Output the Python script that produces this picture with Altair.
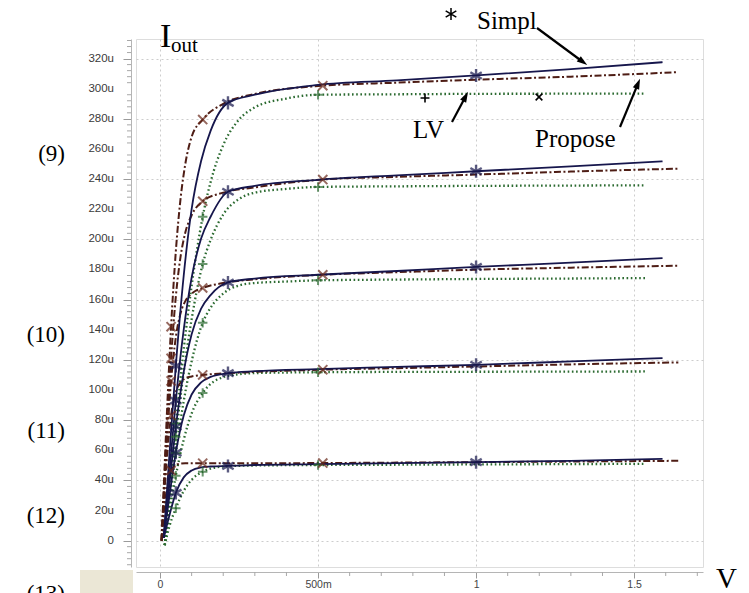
import altair as alt
import pandas as pd

# ---------------- data (I in uA, V in volts) ----------------
families = ["F1", "F2", "F3", "F4", "F5"]

simpl_v = [0.012, 0.03, 0.05, 0.075, 0.1, 0.13, 0.16, 0.215, 0.3, 0.5, 0.75, 1.0, 1.3, 1.59]
simpl_f1 = [2, 58, 116, 176, 220, 252, 272, 290.6, 296, 302.5, 305.5, 308.8, 313, 317.6]
simpl_f2 = [2, 46, 93, 140, 174.5, 200.5, 215, 231.6, 235.5, 239.5, 242.5, 245.2, 248.5, 251.8]
simpl_f3 = [2, 38, 75.6, 112, 137, 154, 163, 171.4, 174, 176.5, 179, 181.7, 184.5, 187.6]
simpl_f4 = [2, 30, 58.4, 83, 97, 105, 108.7, 111.2, 112.5, 113.9, 115.3, 116.7, 119, 121.2]
simpl_f5 = [2, 17, 31.7, 42, 46.6, 48.6, 49.2, 49.6, 50.2, 50.8, 51.4, 52.1, 53, 54.3]

prop_v = [0.005, 0.02, 0.035, 0.05, 0.065, 0.08, 0.1, 0.135, 0.2, 0.3, 0.515, 0.75, 1.0, 1.3, 1.64]
prop_f1 = [0, 76, 142, 192, 227, 250, 268, 279.5, 290, 296.5, 302, 304, 306, 308, 311]
prop_f2 = [0, 66, 121, 162, 188.5, 204.5, 216, 225.3, 231, 234.5, 239.7, 241.5, 243, 245, 246.9]
prop_f3 = [0, 60, 106, 135, 151, 159, 164, 167.7, 171, 173.5, 176.5, 178.2, 179.9, 181.2, 182.5]
prop_f4 = [0, 50, 83, 98.6, 105, 107.8, 109, 110, 111, 112, 113.5, 114.5, 115.6, 117, 118.3]
prop_f5 = [0, 32, 46.5, 50.3, 51.1, 51.3, 51.3, 51.4, 51.4, 51.4, 51.5, 51.8, 52.1, 52.5, 53]

lv_v = [0.015, 0.03, 0.05, 0.075, 0.1, 0.135, 0.16, 0.2, 0.25, 0.3, 0.4, 0.5, 0.75, 1.0, 1.3, 1.535]
lv_f1 = [-3, 34, 77.6, 127, 169, 215, 238, 262.6, 279.5, 287.6, 293.5, 296, 296.3, 296.6, 296.7, 296.8]
lv_f2 = [-3, 30, 69, 112, 147, 183.6, 199.6, 216.5, 226.8, 231, 233.5, 234.8, 235.2, 235.5, 235.7, 235.9]
lv_f3 = [-3, 25.7, 58, 92.6, 119, 144.6, 154.6, 164, 169.4, 171, 172, 172.8, 173.3, 173.7, 174, 174.3]
lv_f4 = [-3, 19, 43, 67, 84.4, 98, 104, 108.5, 110.5, 111.2, 111.6, 111.8, 112, 112.1, 112.2, 112.3]
lv_f5 = [-3, 9.7, 21.5, 33, 40.4, 45.8, 47.8, 49.2, 49.7, 49.9, 50.1, 50.2, 50.4, 50.6, 50.8, 51]

# voltages at which each model carries a marker
simpl_marker_v = [0.05, 0.215, 1.0]
prop_marker_v = [0.035, 0.135, 0.515]
lv_marker_v = [0.05, 0.135, 0.5]

y_major = list(range(0, 321, 20))
y_major_labels = ["0"] + [f"{v}u" for v in range(20, 321, 20)]
y_minor = [v for v in range(-16, 333, 4) if v % 20 != 0]
x_major = [0, 0.5, 1.0, 1.5]
x_minor = [round(0.1 * k, 1) for k in range(0, 18) if k % 5 != 0]

# ---------------- build tables ----------------
def table(model, vs, series):
    rows = []
    for fam, vals in zip(families, series):
        for v, i in zip(vs, vals):
            rows.append({"model": model, "family": fam, "V": v, "I": i})
    return rows

simpl_df = pd.DataFrame(table("Simpl", simpl_v, [simpl_f1, simpl_f2, simpl_f3, simpl_f4, simpl_f5]))
prop_df = pd.DataFrame(table("Propose", prop_v, [prop_f1, prop_f2, prop_f3, prop_f4, prop_f5]))
lv_df = pd.DataFrame(table("LV", lv_v, [lv_f1, lv_f2, lv_f3, lv_f4, lv_f5]))

simpl_mk = simpl_df[simpl_df["V"].isin(simpl_marker_v)]
prop_mk = prop_df[prop_df["V"].isin(prop_marker_v)]
lv_mk = lv_df[lv_df["V"].isin(lv_marker_v)]

NAVY = "#16164c"
BROWN = "#4e1d15"
GREEN = "#2b6a30"

ASTER = "M0,-1L0,1M-0.87,-0.5L0.87,0.5M-0.87,0.5L0.87,-0.5"
CROSS = "M-0.8,-0.8L0.8,0.8M-0.8,0.8L0.8,-0.8"
PLUS = "M-1,0L1,0M0,-1L0,1"
HEAD = "M0,-1L0.65,1L-0.65,1Z"

xs = alt.Scale(domain=[-0.076, 1.718], nice=False, zero=False)
ys = alt.Scale(domain=[-17.5, 333], nice=False, zero=False)

x_axis = alt.Axis(values=x_major,
                  labelExpr="datum.value == 0 ? '0' : (datum.value == 0.5 ? '500m' : format(datum.value, ''))",
                  grid=True, gridColor="#cdcdcd", gridDash=[2, 3], gridWidth=1,
                  domainColor="#b5b5b5", tickColor="#9a9a9a", tickSize=6, offset=5,
                  labelFont="Liberation Sans", labelFontSize=10.5, labelColor="#444", labelPadding=1,
                  labelOverlap=False, title=None)
y_axis = alt.Axis(values=y_major, labels=False,
                  grid=True, gridColor="#cdcdcd", gridDash=[2, 3], gridWidth=1,
                  domainColor="#b5b5b5", tickColor="#9a9a9a", tickSize=8, offset=5,
                  title=None)

base_x = alt.X("V:Q", scale=xs, axis=x_axis)
base_y = alt.Y("I:Q", scale=ys, axis=y_axis)
px = alt.X("V:Q", scale=xs)
py = alt.Y("I:Q", scale=ys)

lv_line = alt.Chart(lv_df).mark_line(color=GREEN, strokeWidth=2.3, strokeDash=[1.6, 2.6],
                                     interpolate="monotone").encode(
    x=base_x, y=base_y, detail="family:N")
prop_line = alt.Chart(prop_df).mark_line(color=BROWN, strokeWidth=2.0, strokeDash=[7, 2.5, 2, 2.5],
                                         interpolate="monotone").encode(
    x=px, y=py, detail="family:N")
simpl_line = alt.Chart(simpl_df).mark_line(color=NAVY, strokeWidth=1.8,
                                           interpolate="monotone").encode(
    x=px, y=py, detail="family:N")

lv_pts = alt.Chart(lv_mk).mark_point(shape=PLUS, size=90, strokeWidth=2, color=GREEN, filled=False).encode(
    x=px, y=py)
prop_pts = alt.Chart(prop_mk).mark_point(shape=CROSS, size=130, strokeWidth=2, color="#6a2a1c", filled=False).encode(
    x=px, y=py)
simpl_pts = alt.Chart(simpl_mk).mark_point(shape=ASTER, size=170, strokeWidth=2.4, color=NAVY, filled=False).encode(
    x=px, y=py)

# y tick labels (drawn as text so that every one of them shows)
ylab = alt.Chart(pd.DataFrame({"I": y_major, "lab": y_major_labels})).mark_text(
    font="Liberation Sans", fontSize=11.5, color="#3a3a3a", align="right", baseline="middle").encode(
    y=py, x=alt.value(-22), text="lab:N")

# minor ticks of both axes
y_minor_ticks = alt.Chart(pd.DataFrame({"I": y_minor})).mark_rule(color="#a8a8a8", strokeWidth=1).encode(
    y=py, x=alt.value(-5), x2=alt.value(-9))
x_minor_ticks = alt.Chart(pd.DataFrame({"V": x_minor})).mark_rule(color="#a8a8a8", strokeWidth=1).encode(
    x=px, y=alt.value(533), y2=alt.value(537))

# beige corner box
corner = alt.Chart(pd.DataFrame({"k": [0]})).mark_rect(color="#ebe7d6").encode(
    x=alt.value(-56), x2=alt.value(-3), y=alt.value(531), y2=alt.value(560))

SERIF = "Liberation Serif"

def txt(s, x, y, size, align="left", baseline="alphabetic"):
    return alt.Chart(pd.DataFrame({"t": [s]})).mark_text(
        font=SERIF, fontSize=size, color="#000", align=align, baseline=baseline).encode(
        text="t:N", x=alt.value(x), y=alt.value(y))

labels = [
    txt("I", 24, 8, 34),
    txt("out", 35, 13, 21),
    txt("Simpl", 341, -10, 25),
    txt("LV", 277, 99, 25),
    txt("Propose", 399, 108, 25),
    txt("V", 580, 549, 29),
    txt("(9)", -71, 122, 23, align="right"),
    txt("(10)", -71, 303, 23, align="right"),
    txt("(11)", -71, 399, 23, align="right"),
    txt("(12)", -71, 484, 23, align="right"),
    txt("(13)", -71, 562, 23, align="right"),
]

def sym(shape, x, y, size, filled=False, angle=0, sw=1.6):
    return alt.Chart(pd.DataFrame({"k": [0]})).mark_point(
        shape=shape, size=size, filled=filled, color="#000", strokeWidth=sw, angle=angle, opacity=1).encode(
        x=alt.value(x), y=alt.value(y))

def seg(x1, y1, x2, y2):
    return alt.Chart(pd.DataFrame({"k": [0]})).mark_rule(color="#000", strokeWidth=2.2).encode(
        x=alt.value(x1), y=alt.value(y1), x2=alt.value(x2), y2=alt.value(y2))

annots = [
    sym(ASTER, 315, -25, 150, sw=1.5),
    sym(PLUS, 289, 59, 80, sw=1.6),
    sym(CROSS, 403, 58, 70, sw=1.6),
    seg(401, -11, 447, 23), sym(HEAD, 447, 23, 110, filled=True, angle=126.5),
    seg(316, 83, 329.6, 57.4), sym(HEAD, 329.6, 57.4, 110, filled=True, angle=28),
    seg(484, 88, 502, 44.6), sym(HEAD, 502, 44.6, 110, filled=True, angle=22.6),
]

chart = alt.layer(
    lv_line, prop_line, simpl_line,
    lv_pts, prop_pts, simpl_pts,
    ylab, y_minor_ticks, x_minor_ticks, corner,
    *labels, *annots,
).properties(
    width=567, height=528,
    autosize=alt.AutoSizeParams(type="none"),
    padding={"left": 128, "top": 31, "right": 38, "bottom": 26},
).configure_view(
    stroke="#c8c8c8", strokeWidth=1
).configure(background="white")

chart.save("out.html", embed_options={"renderer": "svg", "actions": False})
